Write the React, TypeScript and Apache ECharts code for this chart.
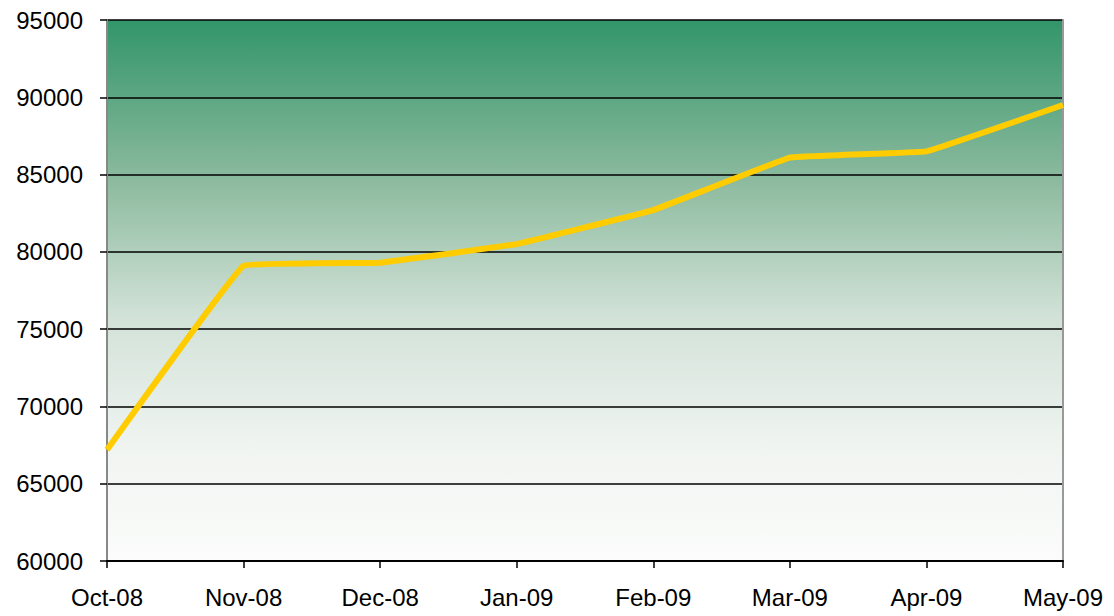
import React, { useEffect, useRef } from "react";
import * as echarts from "echarts";

const categories = ["Oct-08", "Nov-08", "Dec-08", "Jan-09", "Feb-09", "Mar-09", "Apr-09", "May-09"];
const values = [67200, 79100, 79300, 80500, 82700, 86100, 86500, 89500];
const yMin = 60000;
const yMax = 95000;
const yStep = 5000;

export default function App() {
  const ref = useRef<HTMLDivElement>(null);
  useEffect(() => {
    if (!ref.current) return;
    const chart = echarts.init(ref.current, null, { renderer: "svg" });
    const font = "'Liberation Sans', Arial, sans-serif";
    chart.setOption({
      animation: false,
      backgroundColor: "#ffffff",
      grid: {
        left: 107,
        top: 20,
        right: 51,
        bottom: 55,
        show: true,
        borderWidth: 0,
        backgroundColor: new echarts.graphic.LinearGradient(0, 0, 0, 1, [
          { offset: 0, color: "#32956a" },
          { offset: 0.3, color: "#8dbb9f" },
          { offset: 0.55, color: "#d2e2d8" },
          { offset: 0.8, color: "#f1f5f2" },
          { offset: 1, color: "#fbfcfb" },
        ]),
      },
      xAxis: {
        type: "category",
        data: categories,
        boundaryGap: false,
        axisLine: { lineStyle: { color: "#000", width: 2 } },
        axisTick: { show: true, length: 7, lineStyle: { color: "#000", width: 1.5 } },
        axisLabel: { color: "#000", fontFamily: font, fontSize: 24, margin: 24 },
        splitLine: { show: false },
      },
      yAxis: [
        {
          type: "value",
          min: yMin,
          max: yMax,
          interval: yStep,
          axisLine: { show: true, lineStyle: { color: "#888", width: 2 } },
          axisTick: { show: true, length: 7, lineStyle: { color: "#000", width: 1.5 } },
          axisLabel: {
            color: "#000",
            fontFamily: font,
            fontSize: 24,
            margin: 24,
            formatter: (v: number) => String(v),
          },
          splitLine: { show: true, lineStyle: { color: "#000", width: 1.5 } },
        },
        {
          type: "value",
          position: "right",
          min: yMin,
          max: yMax,
          interval: yStep,
          axisLine: { show: true, lineStyle: { color: "#999", width: 2 } },
          axisTick: { show: false },
          axisLabel: { show: false },
          splitLine: { show: false },
        },
      ],
      series: [
        {
          type: "line",
          data: values,
          smooth: 0.05,
          symbol: "none",
          lineStyle: { color: "#ffcc00", width: 6 },
          z: 5,
        },
      ],
    });
    return () => chart.dispose();
  }, []);
  return <div ref={ref} style={{ position: "fixed", left: 0, top: 0, width: 1114, height: 616 }} />;
}
